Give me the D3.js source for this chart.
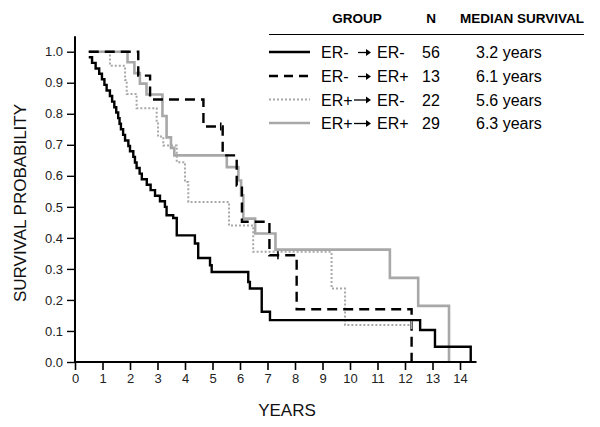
<!DOCTYPE html>
<html>
<head>
<meta charset="utf-8">
<script src="https://cdn.jsdelivr.net/npm/d3@7"></script>
<style>
  html, body { margin: 0; padding: 0; background: #fff; }
  svg { display: block; font-family: "Liberation Sans", Arial, Helvetica, sans-serif; }
</style>
</head>
<body>
<svg id="chart" width="600" height="427"></svg>
<script>
// ---- Data ----
const xTicks = [0,1,2,3,4,5,6,7,8,9,10,11,12,13,14];
const yTicks = [0,0.1,0.2,0.3,0.4,0.5,0.6,0.7,0.8,0.9,1.0];

// Kaplan-Meier step points: [time (years), survival after the step]
const erNegNeg = [[0.5,0.982],[0.62,0.964],[0.75,0.946],[0.88,0.929],[0.98,0.911],[1.07,0.893],[1.15,0.875],[1.27,0.857],[1.35,0.839],[1.43,0.821],[1.5,0.804],[1.57,0.786],[1.62,0.768],[1.67,0.75],[1.75,0.732],[1.82,0.714],[1.94,0.696],[2.0,0.679],[2.12,0.661],[2.18,0.643],[2.24,0.625],[2.35,0.607],[2.43,0.589],[2.61,0.571],[2.75,0.554],[2.91,0.536],[3.09,0.518],[3.27,0.5],[3.33,0.473],[3.57,0.464],[3.7,0.408],[4.36,0.382],[4.48,0.335],[4.91,0.312],[4.97,0.29],[6.3,0.258],[6.36,0.237],[6.79,0.162],[7.09,0.135],[12.55,0.103],[13.09,0.049],[14.39,0]];
const erNegPos = [[0.5,1],[2.3,0.923],[2.73,0.846],[4.67,0.759],[5.37,0.666],[5.88,0.569],[6.07,0.452],[7.07,0.344],[8.06,0.17],[12.24,0]];
const erPosNeg = [[0.5,1],[1.27,0.955],[1.82,0.909],[1.88,0.864],[2.24,0.818],[2.97,0.773],[3.02,0.727],[3.21,0.698],[3.7,0.644],[4.0,0.58],[4.12,0.516],[5.6,0.44],[6.48,0.355],[9.33,0.237],[9.82,0.119],[12.24,0.119]];
const erPosPos = [[0.5,1],[1.91,0.966],[2.16,0.931],[2.36,0.897],[2.6,0.862],[3.18,0.793],[3.33,0.724],[3.49,0.69],[3.61,0.666],[5.52,0.628],[5.94,0.585],[6.04,0.537],[6.12,0.462],[6.55,0.414],[7.29,0.362],[11.45,0.271],[12.48,0.181],[13.6,0]];

// censored observations [time, survival]
const censNegPos = [[5.3,0.759],[7.38,0.344]];
const censPosNeg = [[12.24,0.119]];

const groupFrom = ["ER-","ER-","ER+","ER+"];
const groupTo = ["ER-","ER+","ER-","ER+"];
const groupN = [56,13,22,29];
const medians = ["3.2 years","6.1 years","5.6 years","6.3 years"];

// ---- Styles ----
const styles = [
  {stroke:"#000", width:2.4, dash:null},
  {stroke:"#000", width:2.4, dash:"10,6"},
  {stroke:"#a8a8a8", width:2, dash:"2,2"},
  {stroke:"#a8a8a8", width:2.6, dash:null}
];
const seriesData = [erNegNeg, erNegPos, erPosNeg, erPosPos];

const svg = d3.select("#chart");
const x = d3.scaleLinear().domain([0,14]).range([75,460]);
const y = d3.scaleLinear().domain([0,1]).range([362,51.7]);

const line = d3.line().x(d=>x(d[0])).y(d=>y(d[1])).curve(d3.curveStepAfter);

// draw order: dotted, gray solid, dashed, black solid
[2,3,1,0].forEach(i=>{
  const s = styles[i];
  svg.append("path").datum(seriesData[i])
    .attr("d", line).attr("fill","none")
    .attr("stroke", s.stroke).attr("stroke-width", s.width)
    .attr("stroke-dasharray", s.dash)
    .attr("stroke-linejoin","miter");
});

// censor ticks
function cens(data, s){
  svg.selectAll(null).data(data).enter().append("line")
    .attr("x1",d=>x(d[0])).attr("x2",d=>x(d[0]))
    .attr("y1",d=>y(d[1])-4).attr("y2",d=>y(d[1])+4)
    .attr("stroke",s.stroke).attr("stroke-width",1.6);
}
cens(censNegPos, styles[1]);
cens(censPosNeg, styles[2]);

// ---- Axes ----
const xAxis = d3.axisBottom(x).tickValues(xTicks).tickFormat(d3.format("d")).tickSize(8).tickPadding(4).tickSizeOuter(0);
const gx = svg.append("g").attr("transform",`translate(0,${y(0)})`).call(xAxis);
gx.select(".domain").remove();
gx.selectAll(".tick line").attr("stroke","#000").attr("stroke-width",1.6);
gx.selectAll("text").attr("font-size",13).attr("fill","#222").attr("font-family","Liberation Sans, Arial, sans-serif");

const yAxis = d3.axisLeft(y).tickValues(yTicks).tickFormat(d3.format(".1f")).tickSize(8).tickPadding(4).tickSizeOuter(0);
const gy = svg.append("g").attr("transform",`translate(${x(0)},0)`).call(yAxis);
gy.select(".domain").remove();
gy.selectAll(".tick line").attr("stroke","#000").attr("stroke-width",1.4);
gy.selectAll("text").attr("font-size",13).attr("fill","#222").attr("font-family","Liberation Sans, Arial, sans-serif");

// axis lines
svg.append("line").attr("x1",x(0)).attr("x2",x(14.6)).attr("y1",y(0)).attr("y2",y(0))
  .attr("stroke","#000").attr("stroke-width",2);
svg.append("line").attr("x1",x(0)).attr("x2",x(0)).attr("y1",y(0)).attr("y2",y(1.05))
  .attr("stroke","#000").attr("stroke-width",2);

// axis titles
svg.append("text").attr("x",287).attr("y",416).attr("text-anchor","middle")
  .attr("font-size",17).attr("fill","#111").text("YEARS");
svg.append("text").attr("transform","translate(26,203) rotate(-90)").attr("text-anchor","middle")
  .attr("font-size",17).attr("fill","#111").text("SURVIVAL PROBABILITY");

// ---- Legend ----
const lg = svg.append("g");
lg.append("text").attr("x",357).attr("y",23).attr("text-anchor","middle").attr("font-weight","bold").attr("font-size",13.5).text("GROUP");
lg.append("text").attr("x",431).attr("y",23).attr("text-anchor","middle").attr("font-weight","bold").attr("font-size",13.5).text("N");
lg.append("text").attr("x",522).attr("y",23).attr("text-anchor","middle").attr("font-weight","bold").attr("font-size",13.5).text("MEDIAN SURVIVAL");
lg.append("line").attr("x1",269).attr("x2",584).attr("y1",34.5).attr("y2",34.5).attr("stroke","#000").attr("stroke-width",1);

const rowY = [52, 76, 99.5, 123];
groupN.forEach((n,i)=>{
  const cy = rowY[i], s = styles[i];
  lg.append("line").attr("x1",269).attr("x2",310).attr("y1",cy).attr("y2",cy)
    .attr("stroke",s.stroke).attr("stroke-width",s.width).attr("stroke-dasharray", i===1 ? "9,6" : s.dash);
  lg.append("text").attr("x",321).attr("y",cy+6).attr("font-size",16).text(groupFrom[i]);
  // small arrow
  lg.append("line").attr("x1",i>=2?354:358).attr("x2",366).attr("y1",cy+0.5).attr("y2",cy+0.5).attr("stroke","#000").attr("stroke-width",1.3);
  lg.append("path").attr("d",`M366,${cy-3}L371,${cy+0.5}L366,${cy+4}Z`).attr("fill","#000");
  lg.append("text").attr("x",377).attr("y",cy+6).attr("font-size",16).text(groupTo[i]);
  lg.append("text").attr("x",431).attr("y",cy+6).attr("text-anchor","middle").attr("font-size",16).text(n);
  lg.append("text").attr("x",476).attr("y",cy+6).attr("font-size",16).text(medians[i]);
});
</script>
</body>
</html>
